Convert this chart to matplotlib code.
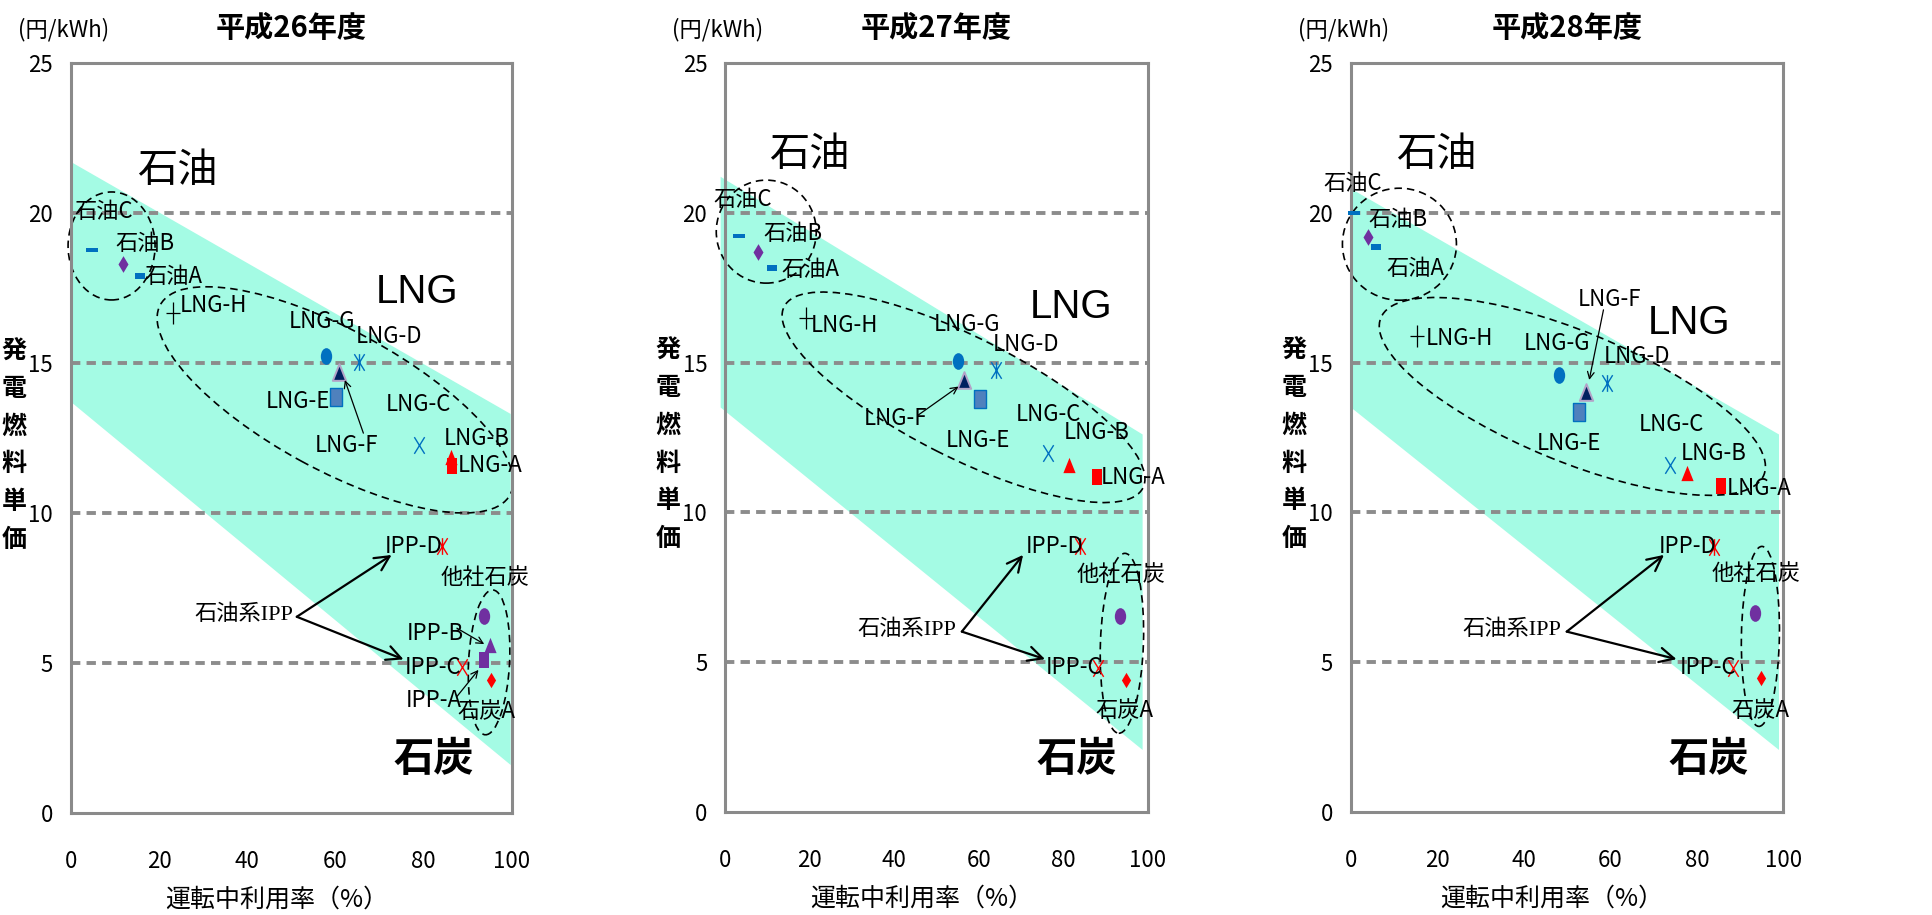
import matplotlib
matplotlib.use("Agg")
import matplotlib.pyplot as plt
import matplotlib.transforms as mtransforms
from matplotlib.patches import Ellipse, Polygon
from matplotlib.path import Path
import numpy as np

plt.rcParams['font.family'] = ['Noto Sans CJK JP', 'DejaVu Sans']

nan = np.nan

# 発電所ごとの運転中利用率(%)と発電燃料単価(円/kWh)
plants = ['石油C', '石油B', '石油A', 'LNG-H', 'LNG-G', 'LNG-D', 'LNG-F', 'LNG-E',
          'LNG-C', 'LNG-B', 'LNG-A', 'IPP-D', '他社石炭', 'IPP-B', 'IPP-A', 'IPP-C', '石炭A']

rate_h26 = [4.7, 11.9, 15.6, 23.2, 57.8, 65.3, 60.8, 60.2, 78.8, 86.1, 86.5, 84.1, 93.7, 95.0, 93.7, 88.6, 95.2]
cost_h26 = [18.77, 18.29, 17.9, 16.66, 15.24, 15.04, 14.71, 13.88, 12.27, 11.88, 11.57, 8.9, 6.57, 5.6, 5.1, 4.88, 4.43]

rate_h27 = [3.3, 7.7, 11.1, 19.0, 55.2, 64.2, 56.4, 60.3, 76.5, 81.4, 87.9, 84.0, 93.4, nan, nan, 88.3, 94.9]
cost_h27 = [19.23, 18.68, 18.17, 16.48, 15.06, 14.75, 14.42, 13.77, 11.97, 11.58, 11.19, 8.88, 6.54, nan, nan, 4.8, 4.41]

rate_h28 = [0.8, 3.9, 5.8, 15.2, 48.0, 59.3, 54.4, 52.8, 73.8, 77.8, 85.6, 84.0, 93.5, nan, nan, 88.4, 94.8]
cost_h28 = [20.0, 19.2, 18.85, 15.89, 14.59, 14.33, 14.03, 13.34, 11.58, 11.3, 10.89, 8.86, 6.63, nan, nan, 4.8, 4.48]

years = ['平成26年度', '平成27年度', '平成28年度']

# 帯の範囲 (左端x, 右端x, 上端の左右, 下端の左右)
band_x = [(0, 99.7), (-1.1, 98.8), (0, 99.0)]
band_top = [(21.7, 13.3), (21.2, 12.6), (20.8, 12.6)]
band_bottom = [(13.7, 1.6), (13.5, 2.07), (13.5, 2.07)]

x_ticks = [0, 20, 40, 60, 80, 100]
y_ticks = [0, 5, 10, 15, 20, 25]
grid_levels = [5, 10, 15, 20]


def shape(pts, closed=True):
    pts = list(pts)
    if closed:
        pts = pts + [pts[0]]
        codes = [Path.MOVETO] + [Path.LINETO] * (len(pts) - 2) + [Path.CLOSEPOLY]
    else:
        codes = [Path.MOVETO, Path.LINETO] * (len(pts) // 2)
    return Path(pts, codes)


circ = Path.unit_circle()
m_ellipse = Path(circ.vertices * [0.68, 1.0], circ.codes)
m_diamond = shape([(0, 1), (0.6, 0), (0, -1), (-0.6, 0)])
m_square = shape([(-0.62, -1), (0.62, -1), (0.62, 1), (-0.62, 1)])
m_tri = shape([(0, 1), (0.8, -1), (-0.8, -1)])
m_x = shape([(-0.62, -1), (0.62, 1), (-0.62, 1), (0.62, -1)], closed=False)
m_star = shape([(-0.62, -1), (0.62, 1), (-0.62, 1), (0.62, -1), (0, -1), (0, 1)], closed=False)
m_plus = shape([(0, -1), (0, 1), (-0.6, 0), (0.6, 0)], closed=False)
m_dash_thin = shape([(-1, -0.33), (1, -0.33), (1, 0.33), (-1, 0.33)])
m_dash_thick = shape([(-1, -0.6), (1, -0.6), (1, 0.6), (-1, 0.6)])

blue = '#0070c0'
purple = '#7030a0'
red = '#ff0000'

# marker, size, face, edge, edge width
styles = {
    '石油C': (m_dash_thin, 9, blue, blue, 0),
    '石油B': (m_diamond, 12, purple, purple, 0),
    '石油A': (m_dash_thick, 7.5, blue, blue, 0),
    'LNG-H': (m_plus, 16, 'none', 'black', 0.9),
    'LNG-G': (m_ellipse, 12, blue, blue, 0),
    'LNG-D': (m_star, 12, 'none', blue, 1.0),
    'LNG-F': (m_tri, 12, '#002060', '#b3a2c7', 1.4),
    'LNG-E': (m_square, 13, '#4f81bd', blue, 1.0),
    'LNG-C': (m_x, 12, 'none', blue, 1.0),
    'LNG-B': (m_tri, 11, red, red, 0),
    'LNG-A': (m_square, 12, red, red, 0),
    'IPP-D': (m_star, 12, 'none', red, 1.0),
    '他社石炭': (m_ellipse, 12, purple, purple, 0),
    'IPP-B': (m_tri, 11, purple, purple, 0),
    'IPP-A': (m_square, 12, purple, purple, 0),
    'IPP-C': (m_x, 12, 'none', red, 1.0),
    '石炭A': (m_diamond, 11, red, red, 0),
}

# ラベル位置 (データ座標)
label_pos = [
    {'石油C': (7.4, 20.04), '石油B': (16.8, 18.97), '石油A': (23.3, 17.88), 'LNG-H': (32.4, 16.9),
     'LNG-G': (57.0, 16.38), 'LNG-D': (72.1, 15.87), 'LNG-F': (62.5, 12.24), 'LNG-E': (51.4, 13.71),
     'LNG-C': (78.8, 13.6), 'LNG-B': (92.0, 12.49), 'LNG-A': (95.0, 11.57), 'IPP-D': (77.8, 8.88),
     '他社石炭': (93.8, 7.85), 'IPP-B': (82.5, 5.97), 'IPP-A': (82.2, 3.74), 'IPP-C': (82.2, 4.85),
     '石炭A': (94.3, 3.37)},
    {'石油C': (4.1, 20.43), '石油B': (16.1, 19.32), '石油A': (20.1, 18.09), 'LNG-H': (28.3, 16.25),
     'LNG-G': (57.3, 16.28), 'LNG-D': (71.3, 15.59), 'LNG-F': (40.2, 13.12), 'LNG-E': (59.7, 12.39),
     'LNG-C': (76.6, 13.28), 'LNG-B': (87.9, 12.67), 'LNG-A': (96.6, 11.17), 'IPP-D': (77.9, 8.86),
     '他社石炭': (93.6, 7.91), 'IPP-C': (82.6, 4.82), '石炭A': (94.6, 3.4)},
    {'石油C': (0.35, 20.98), '石油B': (10.8, 19.76), '石油A': (14.8, 18.15), 'LNG-H': (25.1, 15.79),
     'LNG-G': (47.7, 15.62), 'LNG-D': (66.2, 15.19), 'LNG-F': (59.9, 17.11), 'LNG-E': (50.5, 12.31),
     'LNG-C': (74.1, 12.92), 'LNG-B': (84.0, 11.97), 'LNG-A': (94.3, 10.8), 'IPP-D': (77.8, 8.86),
     '他社石炭': (93.8, 7.97), 'IPP-C': (82.7, 4.82), '石炭A': (94.6, 3.4)},
]

# 引出し線 (始点, 終点)
pointers = [
    [((66.3, 12.66), (62.1, 14.43)), ((87.5, 6.16), (93.7, 5.63)), ((87.5, 3.88), (92.4, 4.77))],
    [((45.7, 13.25), (55.2, 14.2))],
    [((58.4, 16.76), (55.1, 14.42))],
]

group_pos = [
    {'石油': (24.0, 21.43), 'LNG': (78.4, 17.38), '石炭': (82.2, 1.77)},
    {'石油': (19.9, 21.93), 'LNG': (81.8, 16.84), '石炭': (83.2, 1.74)},
    {'石油': (19.8, 21.93), 'LNG': (78.2, 16.31), '石炭': (82.7, 1.74)},
]

ipp_text = [(39.1, 6.6), (42.9, 6.07), (37.2, 6.07)]
ipp_from = [(51.2, 6.54), (56.0, 6.02), (49.9, 6.02)]
ipp_to = [[(72.7, 8.6), (75.4, 5.12)], [(70.5, 8.58), (75.7, 5.1)], [(72.4, 8.58), (75.3, 5.1)]]

# 破線の囲み: 中心(データ座標), 幅・高さ(px), 角度
rings = [
    [((9.2, 18.9), 87, 108, 0), ((59.9, 13.77), 398, 140, -28.5), ((94.8, 5.02), 41, 145, -3)],
    [((9.7, 19.37), 100, 103, 0), ((56.4, 13.84), 402, 120, -26.8), ((93.9, 5.63), 43, 180, -2)],
    [((11.2, 18.95), 114, 112, 0), ((51.2, 13.87), 414, 130, -22.3), ((94.7, 5.86), 38, 180, -1)],
]

fig = plt.figure(figsize=(19.32, 9.15), dpi=100)
panels = [[0.03675, 0.1115, 0.22826, 0.8197],
          [0.37541, 0.1126, 0.21863, 0.8186],
          [0.69928, 0.1126, 0.22376, 0.8186]]
rates = [rate_h26, rate_h27, rate_h28]
costs = [cost_h26, cost_h27, cost_h28]

for i, rect in enumerate(panels):
    ax = fig.add_axes(rect)
    ax.set_xlim(0, 100)
    ax.set_ylim(0, 25)
    ax.set_xticks(x_ticks)
    ax.set_yticks(y_ticks)
    ax.tick_params(length=0, labelsize=16)
    ax.tick_params(axis='y', pad=13)
    ax.tick_params(axis='x', pad=27)
    for s in ax.spines.values():
        s.set_color('#8a8a8a')
        s.set_linewidth(2.2)

    x0, x1 = band_x[i]
    t0, t1 = band_top[i]
    b0, b1 = band_bottom[i]
    ax.add_patch(Polygon([(x0, t0), (x1, t1), (x1, b1), (x0, b0)], closed=True,
                         fc='#a4fbe4', ec='none', zorder=0.5, clip_on=False))

    for g in grid_levels:
        ax.axhline(g, color='#8c8c8c', lw=2.8, dashes=(2.4, 1.6), zorder=1)

    for (cx, cy), w, h, ang in rings[i]:
        tr = fig.dpi_scale_trans + mtransforms.ScaledTranslation(cx, cy, ax.transData)
        ax.add_patch(Ellipse((0, 0), w / 100, h / 100, angle=ang, transform=tr, fill=False,
                             ec='black', lw=1.2, ls=(0, (4.5, 3)), clip_on=False, zorder=2))

    for name, xv, yv in zip(plants, rates[i], costs[i]):
        if np.isnan(xv):
            continue
        mk, ms, fc, ec, mew = styles[name]
        ax.plot([xv], [yv], ls='none', marker=mk, ms=ms, mfc=fc, mec=ec, mew=mew, zorder=3,
                clip_on=False)

    for name, (lx, ly) in label_pos[i].items():
        ax.text(lx, ly, name, fontsize=16, ha='center', va='center', zorder=4)

    for start, end in pointers[i]:
        ax.annotate('', xy=end, xytext=start,
                    arrowprops=dict(arrowstyle='->', color='black', lw=0.9,
                                    mutation_scale=12, shrinkA=0, shrinkB=0))

    ax.text(*ipp_text[i], '石油系IPP', fontsize=16, ha='center', va='center',
            family=['Liberation Serif', 'Noto Sans CJK JP'], zorder=4)
    for tip in ipp_to[i]:
        ax.annotate('', xy=tip, xytext=ipp_from[i],
                    arrowprops=dict(arrowstyle='->', color='black', lw=1.6,
                                    mutation_scale=26, shrinkA=0, shrinkB=0))

    gp = group_pos[i]
    ax.text(*gp['石油'], '石油', fontsize=29, ha='center', va='center',
            family=['Noto Sans CJK JP'], zorder=4)
    ax.text(*gp['LNG'], 'LNG', fontsize=29, ha='center', va='center',
            family=['Liberation Sans'], zorder=4)
    ax.text(*gp['石炭'], '石炭', fontsize=29, fontweight='bold', ha='center', va='center',
            family=['Noto Sans CJK JP'], zorder=4)

    ax.text(0.5, 1.046, years[i], transform=ax.transAxes, fontsize=21, fontweight='bold',
            ha='center', va='center')
    ax.text(-0.018, 1.044, '(円/kWh)', transform=ax.transAxes, fontsize=16,
            ha='center', va='center')
    ylab = mtransforms.offset_copy(ax.transAxes, fig=fig, x=-57, y=0, units='dots')
    ax.text(0, 0.49, '\n'.join('発電燃料単価'), transform=ylab, fontsize=18,
            fontweight='bold', ha='center', va='center', linespacing=1.72)
    xlab = mtransforms.offset_copy(ax.transAxes, fig=fig, x=-15, y=-87, units='dots')
    ax.text(0.5, 0, '運転中利用率（%）', transform=xlab, fontsize=18, ha='center', va='center')

fig.savefig('out.png', dpi=100)
